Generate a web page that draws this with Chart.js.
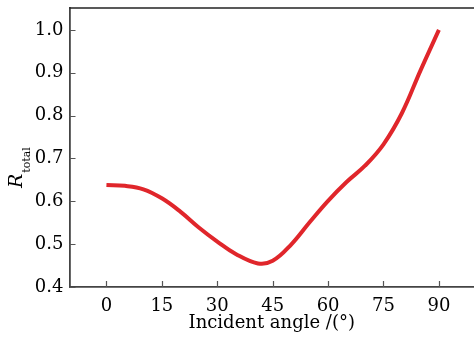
<!DOCTYPE html>
<html>
<head>
<meta charset="utf-8">
<script src="https://cdn.jsdelivr.net/npm/chart.js@4.4.0/dist/chart.umd.min.js"></script>
<style>
  html, body { margin: 0; padding: 0; background: #fff; }
  #wrap { width: 474px; height: 339px; position: relative; }
</style>
</head>
<body>
<div id="wrap"><canvas id="chart"></canvas></div>
<script>
  // Data
  const angles = [0, 5, 10, 15, 20, 25, 30, 35, 41, 45, 50, 55, 60, 65, 70, 75, 80, 85, 90];
  const rTotal = [0.638, 0.636, 0.628, 0.607, 0.576, 0.539, 0.506, 0.477, 0.455, 0.461, 0.499, 0.551, 0.601, 0.645, 0.683, 0.733, 0.806, 0.905, 1.0];
  const xTicks = [0, 15, 30, 45, 60, 75, 90];
  const yTicks = [0.4, 0.5, 0.6, 0.7, 0.8, 0.9, 1.0];

  const serif = "'DejaVu Serif', 'Liberation Serif', serif";

  // inward tick marks, top frame line and the R_total title
  const framePlugin = {
    id: "frame",
    afterDraw(chart) {
      const ctx = chart.ctx;
      const area = chart.chartArea;
      const xs = chart.scales.x;
      const ys = chart.scales.y;
      ctx.save();
      ctx.strokeStyle = "#555";
      ctx.lineWidth = 1.2;
      ctx.beginPath();
      xTicks.forEach((v) => {
        const px = Math.round(xs.getPixelForValue(v)) + 0.5;
        ctx.moveTo(px, area.bottom);
        ctx.lineTo(px, area.bottom - 6);
      });
      yTicks.forEach((v) => {
        const py = Math.round(ys.getPixelForValue(v)) + 0.5;
        ctx.moveTo(area.left, py);
        ctx.lineTo(area.left + 6, py);
      });
      ctx.stroke();

      ctx.strokeStyle = "#222";
      ctx.lineWidth = 1.5;
      ctx.beginPath();
      ctx.moveTo(area.left, area.top);
      ctx.lineTo(chart.width, area.top);
      ctx.stroke();

      // y title: italic R with subscript "total", rotated
      ctx.translate(22, 188);
      ctx.rotate(-Math.PI / 2);
      ctx.fillStyle = "#000";
      ctx.textBaseline = "alphabetic";
      ctx.textAlign = "left";
      ctx.font = "italic 19px " + serif;
      ctx.fillText("R", 0, 0);
      const rw = ctx.measureText("R").width;
      ctx.font = "11px " + serif;
      ctx.fillText("total", rw + 1, 8);
      ctx.restore();
    },
  };

  new Chart(document.getElementById("chart"), {
    type: "line",
    data: {
      datasets: [
        {
          data: angles.map((a, i) => ({ x: a, y: rTotal[i] })),
          borderColor: "#e0262b",
          borderWidth: 4,
          pointRadius: 0,
          tension: 0.4,
          fill: false,
        },
      ],
    },
    options: {
      responsive: true,
      maintainAspectRatio: false,
      animation: false,
      layout: { padding: { top: 8, right: 0, left: 0, bottom: 0 } },
      plugins: {
        legend: { display: false },
        tooltip: { enabled: false },
      },
      scales: {
        x: {
          type: "linear",
          min: -10,
          max: 99.5,
          afterBuildTicks: (scale) => {
            scale.ticks = xTicks.map((v) => ({ value: v }));
          },
          afterFit: (scale) => {
            scale.height = 52;
            scale.paddingLeft = 0;
            scale.paddingRight = 0;
          },
          grid: { display: false, drawTicks: false },
          border: { display: true, color: "#444", width: 1.8 },
          ticks: {
            color: "#000",
            padding: 9,
            maxRotation: 0,
            font: { family: serif, size: 18 },
          },
          title: {
            display: true,
            text: "Incident angle /(°)",
            color: "#000",
            padding: { top: 0, bottom: 5 },
            font: { family: serif, size: 18 },
          },
        },
        y: {
          min: 0.4,
          max: 1.051,
          afterBuildTicks: (scale) => {
            scale.ticks = yTicks.map((v) => ({ value: v }));
          },
          afterFit: (scale) => {
            scale.width = 69.5;
            scale.paddingTop = 0;
            scale.paddingBottom = 0;
          },
          grid: { display: false, drawTicks: false },
          border: { display: true, color: "#444", width: 1.8 },
          ticks: {
            color: "#000",
            padding: 6,
            font: { family: serif, size: 18 },
            callback: (v) => v.toFixed(1),
          },
        },
      },
    },
    plugins: [framePlugin],
  });
</script>
</body>
</html>
